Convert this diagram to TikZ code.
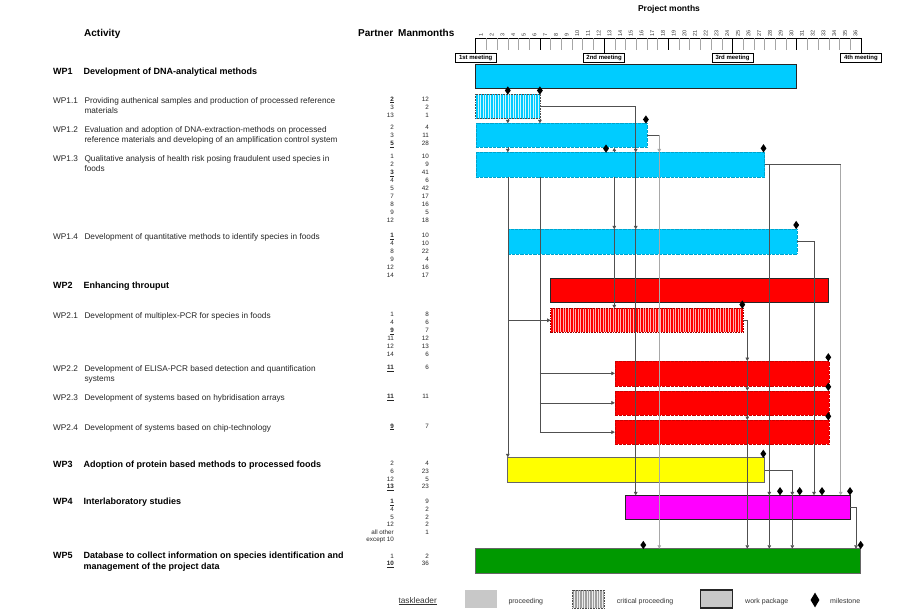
\documentclass[tikz,border=0pt]{standalone}
\usepackage{fontspec}
\setmainfont{Liberation Sans}
\usetikzlibrary{arrows.meta,shapes.geometric,calc}
\definecolor{wpcyan}{HTML}{00CCFF}
\definecolor{wpred}{HTML}{FF0000}
\definecolor{wpyellow}{HTML}{FFFF00}
\definecolor{wpmag}{HTML}{FF00FF}
\definecolor{wpgreen}{HTML}{009900}
\definecolor{conncol}{HTML}{505050}
\definecolor{connlight}{HTML}{A8A8A8}
\definecolor{leggray}{HTML}{C8C8C8}
\newcommand{\tlead}[1]{\underline{\textbf{#1}}}
\newcommand{\wpbar}[6]{\node[barnode, minimum width={#4pt-#2pt}, minimum height={#5pt-#3pt}, #6] (#1) at (#2,#3) {};}
\newcommand{\numrows}[4]{%
  \foreach \p/\m [count=\i] in {#4} {
    \node[numtxt] (p#1-\i) at (394, {#2+2.2+#3*(\i-1)}) {\p};
    \node[numtxt] (m#1-\i) at (429, {#2+2.2+#3*(\i-1)}) {\m};
  }}
\begin{document}
\begin{tikzpicture}[x=1pt,y=-1pt,
  barnode/.style={rectangle, inner sep=0, outer sep=0, anchor=north west},
  plainbar/.style={fill=#1, draw=#1!80!black, line width=0.3pt, densely dotted},
  framebar/.style={fill=#1, draw=black!85, line width=1.1pt},
  conn/.style={draw=conncol, line width=0.6pt},
  connl/.style={draw=connlight, line width=0.9pt},
  arr/.style={-{Triangle[width=3.6pt,length=3.4pt]}},
  ms/.style={diamond, fill=black, inner sep=0, minimum width=6pt, minimum height=8.5pt},
  txt/.style={font=\fontsize{8.25}{10}\selectfont, inner sep=0, anchor=base west, text=black!85},
  wpb/.style={font=\fontsize{9}{11}\selectfont\bfseries, inner sep=0, anchor=base west},
  hdr/.style={font=\fontsize{10}{12}\selectfont\bfseries, inner sep=0, anchor=base west},
  numtxt/.style={font=\fontsize{6.3}{7}\selectfont, inner sep=0, anchor=base east, text=black!85},
  mnum/.style={font=\fontsize{5.5}{6}\selectfont, inner sep=0, rotate=90, anchor=west, text=black!80},
  meet/.style={draw, line width=0.9pt, fill=white, font=\fontsize{6}{6}\selectfont\bfseries, inner sep=0, minimum width=41pt, minimum height=8.5pt},
  legtxt/.style={font=\fontsize{7}{8}\selectfont, inner sep=0, anchor=base west, text=black!80}
]
\useasboundingbox (0,0) rectangle (900,616);

% ---------- headers ----------
\node[font=\fontsize{8.5}{10}\selectfont\bfseries, inner sep=0] (projm) at (669,9) {Project months};
\node[hdr] (hact) at (84,36.5) {Activity};
\node[hdr] (hpart) at (358,36.5) {Partner};
\node[hdr] (hman) at (398,36.5) {Manmonths};

% ---------- month axis ----------
\draw[line width=0.7pt] (475.7,38) -- (860.9,38);
\foreach \k in {1,...,35} {
  \pgfmathsetmacro\xx{475.7+10.7*\k}
  \pgfmathtruncatemacro\rr{mod(\k,6)}
  \ifnum\rr=0
    \draw[line width=0.7pt] (\xx,38) -- (\xx,49.5);
  \else
    \draw[line width=0.6pt, gray!70] (\xx,38) -- (\xx,49.5);
  \fi
}
\foreach \k in {0,12,24,36} {
  \pgfmathsetmacro\xx{475.7+10.7*\k}
  \draw[line width=0.8pt] (\xx,38) -- (\xx,54);
}
\foreach \k in {1,...,36} {
  \pgfmathsetmacro\xx{475.7+10.7*(\k-0.5)}
  \node[mnum] (mn\k) at (\xx,36.8) {\k};
}
\node[meet] (meet1) at (475.7,58) {1st meeting};
\node[meet] (meet2) at (604.1,58) {2nd meeting};
\node[meet] (meet3) at (732.5,58) {3rd meeting};
\node[meet] (meet4) at (860.9,58) {4th meeting};

% ---------- bars ----------
\wpbar{wp1}{475.7}{64.7}{796.7}{88.7}{framebar=wpcyan}
\wpbar{wp11}{475.7}{94}{539.9}{118.7}{fill=wpcyan!20}
\begin{scope}
  \clip (wp11.north west) rectangle (wp11.south east);
  \foreach \k in {0,...,26} \draw[wpcyan, line width=1.2pt] ({477+2.5*\k},94) -- ({477+2.5*\k},118.7);
\end{scope}
\draw[densely dotted, line width=0.6pt, black!70] (wp11.north west) rectangle (wp11.south east);
\wpbar{wp12}{475.7}{123.3}{646.9}{147.3}{plainbar=wpcyan}
\wpbar{wp13}{475.7}{152.3}{764.6}{176.7}{plainbar=wpcyan}
\wpbar{wp14}{507.8}{229.3}{796.7}{254}{plainbar=wpcyan}
\wpbar{wp2}{550.6}{278.7}{828.8}{302.7}{framebar=wpred}
\wpbar{wp21}{550.6}{308.3}{743.2}{332.3}{fill=wpred!30}
\begin{scope}
  \clip (wp21.north west) rectangle (wp21.south east);
  \foreach \k in {0,...,77} \draw[wpred, line width=1.2pt] ({552+2.5*\k},308.3) -- ({552+2.5*\k},332.3);
\end{scope}
\draw[densely dotted, line width=0.6pt, wpred!60!black] (wp21.north west) rectangle (wp21.south east);
\wpbar{wp22}{614.8}{361}{828.8}{385.7}{plainbar=wpred}
\wpbar{wp23}{614.8}{390.7}{828.8}{415}{plainbar=wpred}
\wpbar{wp24}{614.8}{420}{828.8}{444.3}{plainbar=wpred}
\wpbar{wp3}{507.8}{457.3}{764.6}{482.3}{fill=wpyellow, draw=black!60, line width=1pt}
\wpbar{wp4}{625.5}{495.3}{850.2}{519.3}{framebar=wpmag}
\wpbar{wp5}{475.7}{548.7}{860.9}{573.3}{fill=wpgreen, draw=black!60, line width=1pt}

% ---------- connector x positions ----------
\coordinate (xA) at (507.8,0);
\coordinate (xB) at (539.9,0);
\coordinate (xC) at (635.7,0);
\coordinate (xD) at (614.3,0);
\coordinate (xE) at (659.3,0);
\coordinate (xF) at (769.3,0);
\coordinate (xG) at (840.7,0);
\coordinate (xH) at (814,0);
\coordinate (xI) at (747.3,0);
\coordinate (xJ) at (792.3,0);
\coordinate (xK) at (856,0);

% ---------- connectors ----------
\draw[conn,arr] (wp11.south -| xA) -- (wp12.north -| xA);
\draw[conn,arr] (wp12.south -| xA) -- (wp13.north -| xA);
\draw[conn,arr] (wp13.south -| xA) -- (wp3.north -| xA);
\draw[conn,arr] (xA |- wp21.west) -- (wp21.west);
\draw[conn,arr] (wp11.south -| xB) -- (wp12.north -| xB);
\draw[conn] (wp13.south -| xB) -- (xB |- wp24.west);
\draw[conn,arr] (xB |- wp22.west) -- (wp22.west);
\draw[conn,arr] (xB |- wp23.west) -- (wp23.west);
\draw[conn,arr] (xB |- wp24.west) -- (wp24.west);
\draw[conn,arr] (wp11.east) -| (wp13.north -| xC);
\draw[conn,arr] (wp13.north -| xC) -- (wp14.north -| xC);
\draw[conn,arr] (wp14.north -| xC) -- (wp4.north -| xC);
\draw[conn,arr] (wp13.north -| xD) -- ++(0,-4.5);
\draw[conn,arr] (wp13.south -| xD) -- (wp14.north -| xD);
\draw[conn,arr] (wp14.north -| xD) -- (wp21.north -| xD);
\draw[conn] (wp12.east) -- (wp12.east -| xE);
\draw[connl,arr] (wp12.east -| xE) -- (wp13.north -| xE);
\draw[connl,arr] (wp13.north -| xE) -- (wp5.north -| xE);
\draw[conn,arr] (wp13.east) -| (wp4.north -| xF);
\draw[conn,arr] (wp4.north -| xF) -- (wp5.north -| xF);
\draw[conn] (wp13.east -| xF) -- (wp13.east -| xG);
\draw[connl,arr] (wp13.east -| xG) -- (wp4.north -| xG);
\draw[conn,arr] (wp14.east) -| (wp4.north -| xH);
\draw[conn,arr] (wp21.east) -| (wp22.north -| xI);
\draw[conn,arr] (wp22.north -| xI) -- (wp23.north -| xI);
\draw[conn,arr] (wp23.north -| xI) -- (wp24.north -| xI);
\draw[conn,arr] (wp24.north -| xI) -- (wp5.north -| xI);
\draw[conn,arr] (wp3.east) -| (wp4.north -| xJ);
\draw[conn,arr] (wp4.north -| xJ) -- (wp5.north -| xJ);
\draw[conn,arr] (wp4.east) -| (wp5.north -| xK);

% ---------- milestones ----------
\node[ms] (ms1) at (507.8,90.5) {};
\node[ms] (ms2) at (539.9,90.5) {};
\node[ms] (ms3) at (645.9,119.5) {};
\node[ms] (ms4) at (606,148.6) {};
\node[ms] (ms5) at (763.5,148.3) {};
\node[ms] (ms6) at (796.2,225) {};
\node[ms] (ms7) at (742.3,304.6) {};
\node[ms] (ms8) at (828.3,357.3) {};
\node[ms] (ms9) at (828.3,386.8) {};
\node[ms] (ms10) at (828.3,416.3) {};
\node[ms] (ms11) at (763.3,453.8) {};
\node[ms] (ms12) at (780,491.2) {};
\node[ms] (ms13) at (799.7,491.2) {};
\node[ms] (ms14) at (822,491.2) {};
\node[ms] (ms15) at (850,491.2) {};
\node[ms] (ms16) at (643.3,545) {};
\node[ms] (ms17) at (860.7,545) {};

% ---------- activity texts ----------
\node[wpb] (l1) at (53,74.5) {WP1};
\node[wpb] (d1) at (83.5,74.5) {Development of DNA-analytical methods};
\node[txt] (l11) at (53,103) {WP1.1};
\node[txt] (d11a) at (84.3,103) {Providing authenical samples and production of processed reference};
\node[txt] (d11b) at (84.3,113.5) {materials};
\node[txt] (l12) at (53,132) {WP1.2};
\node[txt] (d12a) at (84.3,132) {Evaluation and adoption of DNA-extraction-methods on processed};
\node[txt] (d12b) at (84.3,142.5) {reference materials and developing of an amplification control system};
\node[txt] (l13) at (53,161) {WP1.3};
\node[txt] (d13a) at (84.3,161) {Qualitative analysis of health risk posing fraudulent used species in};
\node[txt] (d13b) at (84.3,171.5) {foods};
\node[txt] (l14) at (53,239) {WP1.4};
\node[txt] (d14) at (84.3,239) {Development of quantitative methods to identify species in foods};
\node[wpb] (l2) at (53,288.3) {WP2};
\node[wpb] (d2) at (83.5,288.3) {Enhancing throuput};
\node[txt] (l21) at (53,318) {WP2.1};
\node[txt] (d21) at (84.3,318) {Development of multiplex-PCR for species in foods};
\node[txt] (l22) at (53,371) {WP2.2};
\node[txt] (d22a) at (84.3,371) {Development of ELISA-PCR based detection and quantification};
\node[txt] (d22b) at (84.3,381.5) {systems};
\node[txt] (l23) at (53,400) {WP2.3};
\node[txt] (d23) at (84.3,400) {Development of systems based on hybridisation arrays};
\node[txt] (l24) at (53,430) {WP2.4};
\node[txt] (d24) at (84.3,430) {Development of systems based on chip-technology};
\node[wpb] (l3) at (53,467.3) {WP3};
\node[wpb] (d3) at (83.5,467.3) {Adoption of protein based methods to processed foods};
\node[wpb] (l4) at (53,504.3) {WP4};
\node[wpb] (d4) at (83.5,504.3) {Interlaboratory studies};
\node[wpb] (l5) at (53,558.3) {WP5};
\node[wpb] (d5a) at (83.5,558.3) {Database to collect information on species identification and};
\node[wpb] (d5b) at (83.5,569) {management of the project data};

% ---------- partners / manmonths ----------
\numrows{a}{99}{8}{\tlead{2}/12, 3/2, 13/1}
\numrows{b}{127.5}{8}{2/4, 3/11, \tlead{5}/28}
\numrows{c}{156.7}{8}{1/10, 2/9, \tlead{3}/41, 4/6, 5/42, 7/17, 8/16, 9/5, 12/18}
\numrows{d}{235.7}{8}{\tlead{1}/10, 4/10, 8/22, 9/4, 12/16, 14/17}
\numrows{e}{314.3}{7.95}{1/8, 4/6, \tlead{9}/7, 11/12, 12/13, 14/6}
\numrows{f}{367.7}{8}{\tlead{11}/6}
\numrows{g}{396.7}{8}{\tlead{11}/11}
\numrows{h}{426}{8}{\tlead{9}/7}
\numrows{i}{463.3}{7.8}{2/4, 6/23, 12/5, \tlead{13}/23}
\numrows{j}{501.7}{7.55}{\tlead{1}/9, 4/2, 5/2, 12/2, all other/1, except 10/{}}
\numrows{k}{556}{7.5}{1/2, \tlead{10}/36}

% ---------- legend ----------
\node[font=\fontsize{8.3}{9}\selectfont, inner sep=0, anchor=base west, text=black!80] (lgtl) at (398.3,603) {\underline{taskleader}};
\node[barnode, fill=leggray, minimum width=32pt, minimum height=18pt] (lgp) at (465,590) {};
\node[legtxt] (lgpt) at (508.3,603.3) {proceeding};
\node[barnode, fill=gray!15, minimum width=32pt, minimum height=18pt] (lgc) at (572.3,590) {};
\begin{scope}
  \clip (lgc.north west) rectangle (lgc.south east);
  \foreach \k in {0,...,13} \draw[gray!75, line width=1.1pt] ({573.5+2.5*\k},590) -- ({573.5+2.5*\k},608);
\end{scope}
\draw[densely dotted, line width=0.6pt, black!70] (lgc.north west) rectangle (lgc.south east);
\node[legtxt] (lgct) at (616.7,603.3) {critical proceeding};
\node[barnode, fill=leggray, draw=black!85, line width=1.1pt, minimum width=32pt, minimum height=18pt] (lgw) at (700.7,590) {};
\node[legtxt] (lgwt) at (745,603.3) {work package};
\node[diamond, fill=black, inner sep=0, minimum width=9pt, minimum height=15pt] (lgm) at (815,600) {};
\node[legtxt] (lgmt) at (830,603.3) {milestone};
\end{tikzpicture}
\end{document}
